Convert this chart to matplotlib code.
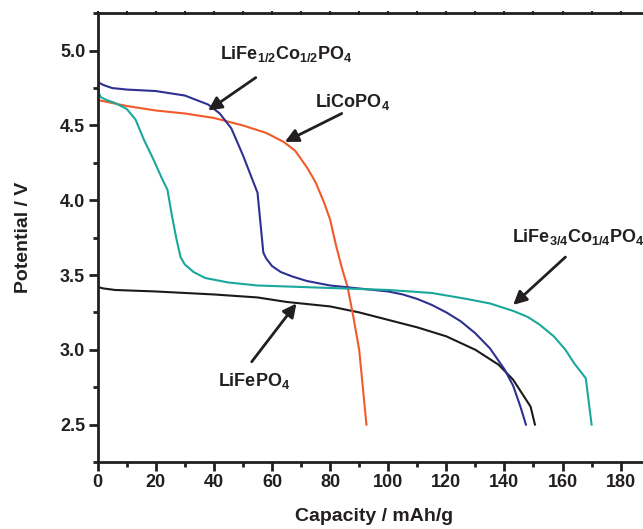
import matplotlib
matplotlib.use("Agg")
import matplotlib.pyplot as plt
from matplotlib.ticker import MultipleLocator

plt.rcParams['font.family'] = ['Liberation Sans', 'DejaVu Sans']
plt.rcParams['font.weight'] = 'bold'
plt.rcParams['mathtext.fontset'] = 'custom'
plt.rcParams['mathtext.rm'] = 'Liberation Sans:bold'
plt.rcParams['mathtext.it'] = 'Liberation Sans:bold'
plt.rcParams['mathtext.bf'] = 'Liberation Sans:bold'
plt.rcParams['mathtext.default'] = 'rm'

# LiFePO4 (black)
fe_x = [0, 2, 6, 20, 40, 55, 65, 75, 80, 85, 90, 100, 110, 120, 130, 138, 143, 147, 149, 150.5]
fe_y = [3.42, 3.41, 3.40, 3.39, 3.37, 3.35, 3.32, 3.30, 3.29, 3.27, 3.25, 3.20, 3.15, 3.09, 3.00, 2.90, 2.80, 2.68, 2.62, 2.50]

# LiCoPO4 (orange)
co_x = [0, 10, 20, 30, 40, 50, 58, 64, 68, 72, 75, 78, 80, 82, 84, 86, 88, 90, 92.5]
co_y = [4.67, 4.63, 4.60, 4.58, 4.55, 4.50, 4.45, 4.39, 4.33, 4.22, 4.12, 3.98, 3.87, 3.70, 3.55, 3.42, 3.22, 3.00, 2.50]

# LiFe1/2Co1/2PO4 (blue)
half_x = [0, 2, 5, 10, 20, 30, 38, 42, 46, 50, 53, 55, 56, 57, 58, 60, 63, 67, 72, 80, 90, 100,
          105, 110, 115, 120, 125, 130, 135, 140, 143, 145.5, 147.4]
half_y = [4.79, 4.77, 4.75, 4.74, 4.73, 4.70, 4.64, 4.58, 4.48, 4.30, 4.15, 4.05, 3.85, 3.65, 3.61, 3.56,
          3.52, 3.49, 3.46, 3.43, 3.41, 3.39, 3.37, 3.34, 3.30, 3.25, 3.19, 3.11, 3.01, 2.87, 2.76, 2.62, 2.50]

# LiFe3/4Co1/4PO4 (teal)
qtr_x = [0, 0.3, 1, 3, 6, 10, 13, 16, 19, 22, 24, 25.5, 27, 28.5, 30, 33, 37, 45, 55, 70, 85, 100,
         115, 127, 135, 143, 148, 152, 157, 161, 164, 166, 168, 170]
qtr_y = [5.01, 4.72, 4.69, 4.67, 4.65, 4.61, 4.54, 4.40, 4.28, 4.15, 4.07, 3.90, 3.75, 3.62, 3.57, 3.52,
         3.48, 3.45, 3.43, 3.42, 3.41, 3.40, 3.38, 3.34, 3.31, 3.26, 3.22, 3.17, 3.09, 3.00, 2.91, 2.86, 2.81, 2.50]

ink = '#231f20'

fig = plt.figure(figsize=(6.43, 5.29), dpi=100)
ax = fig.add_axes([0.152, 0.1267, 0.8584, 0.8482])

ax.plot(fe_x, fe_y, color='#1a1a1a', lw=1.5)
ax.plot(co_x, co_y, color='#F15A29', lw=1.5)
ax.plot(half_x, half_y, color='#2E3192', lw=1.5)
ax.plot(qtr_x, qtr_y, color='#19A89B', lw=1.5)

ax.set_xlim(0, 190)
ax.set_ylim(2.25, 5.25)
ax.xaxis.set_major_locator(MultipleLocator(20))
ax.xaxis.set_minor_locator(MultipleLocator(10))
ax.yaxis.set_major_locator(MultipleLocator(0.5))
ax.yaxis.set_minor_locator(MultipleLocator(0.25))
ax.yaxis.set_major_formatter(plt.FormatStrFormatter('%.1f'))

for s in ax.spines.values():
    s.set_linewidth(2)
    s.set_color(ink)
ax.spines['top'].set_visible(False)
ax.tick_params(which='major', length=6.5, width=2, labelsize=13, color=ink, labelcolor=ink, pad=2.5)
ax.tick_params(which='minor', length=3.5, width=2, color=ink)

# small tick nubs on the top frame line
top = ax.secondary_xaxis('top')
top.xaxis.set_major_locator(MultipleLocator(10))
top.tick_params(direction='inout', length=3, width=1.5, color=ink, labeltop=False)
top.spines['top'].set_linewidth(2)
top.spines['top'].set_color(ink)

for lab in ax.get_xticklabels() + ax.get_yticklabels():
    lab.set_fontweight('bold')

ax.set_xlabel('Capacity / mAh/g', fontsize=14, fontweight='bold', color=ink, labelpad=12)
ax.set_ylabel('Potential / V', fontsize=14, fontweight='bold', color=ink, labelpad=20)

arrow = dict(arrowstyle='-|>', color=ink, lw=2, mutation_scale=20, shrinkA=0, shrinkB=0)
ax.annotate('', xy=(38, 4.60), xytext=(54.4, 4.82), arrowprops=arrow)
ax.text(42, 4.98, r'LiFe$_{1/2}$Co$_{1/2}$PO$_4$', fontsize=13, fontweight='bold', color=ink, va='center')
ax.annotate('', xy=(64.4, 4.39), xytext=(84, 4.58), arrowprops=arrow)
ax.text(74.8, 4.66, r'LiCoPO$_4$', fontsize=13, fontweight='bold', color=ink, va='center')
ax.annotate('', xy=(143, 3.30), xytext=(161, 3.62), arrowprops=arrow)
ax.text(142.5, 3.755, r'LiFe$_{3/4}$Co$_{1/4}$PO$_4$', fontsize=13, fontweight='bold', color=ink, va='center')
ax.annotate('', xy=(68.4, 3.31), xytext=(53, 2.92), arrowprops=arrow)
ax.text(41.5, 2.79, r'LiFePO$_4$', fontsize=13, fontweight='bold', color=ink, va='center')

fig.savefig('out.png', dpi=100)
